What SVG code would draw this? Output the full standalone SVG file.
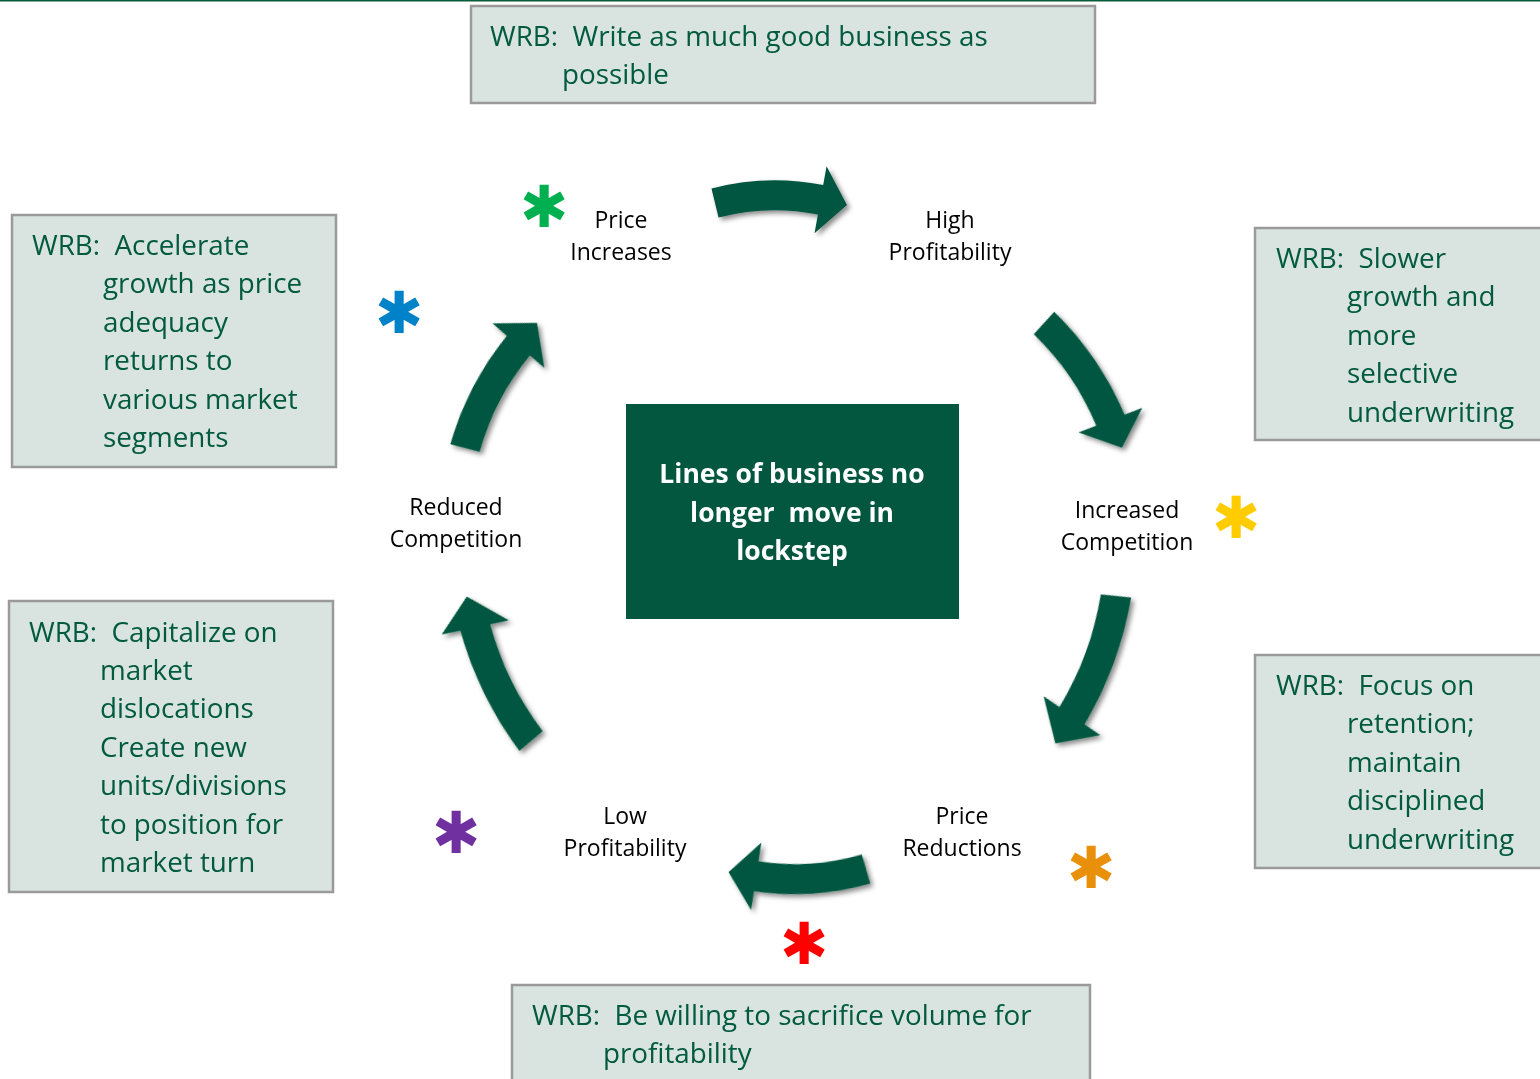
<svg xmlns="http://www.w3.org/2000/svg" width="1540" height="1079" viewBox="0 0 1540 1079">
  <style>
    .note { fill: #d9e3df; stroke: #9a9a9a; stroke-width: 2.5; }
    .note-text { font-family: "Open Sans", "Liberation Sans", sans-serif; font-size: 27.8px; fill: #005a3e; }
    .label { font-family: "Open Sans", "Liberation Sans", sans-serif; font-size: 23px; fill: #000; text-anchor: middle; }
    .core { fill: #04573f; }
    .core-text { font-family: "Open Sans", "Liberation Sans", sans-serif; font-size: 26.5px; font-weight: bold; fill: #fff; text-anchor: middle; }
    .star { font-family: "DejaVu Sans", sans-serif; font-size: 58px; font-weight: bold; text-anchor: middle; dominant-baseline: central; }
    .arrow { fill: #04573f; }
  </style>
  <defs>
    <filter id="soft-shadow" x="-30%" y="-30%" width="160%" height="160%">
      <feDropShadow dx="3" dy="3" stdDeviation="2.5" flood-color="#000" flood-opacity="0.45"/>
    </filter>
    <!-- curved block arrow: tail centre at origin, travelling along +x, bulging toward -y -->
    <path id="cycle-arrow" d="M -3.23,-14.65 A 270.1 270.1 0 0 1 113.23,-14.65 L 117.33,-33.21 L 137.34,6.04 L 102.67,33.2 L 106.77,14.64 A 240.1 240.1 0 0 0 3.23,14.64 Z"/>
  </defs>

  <rect width="1540" height="1079" fill="#fff"/>
  <line x1="0" y1="0.5" x2="1540" y2="0.5" stroke="#0a5a3c" stroke-width="2"/>

  <!-- connectors: the six arrows of the cycle -->
  <g id="connectors" class="arrow" filter="url(#soft-shadow)">
    <use href="#cycle-arrow" transform="translate(715,203) rotate(-1.75) scale(0.96,1)"/>
    <use href="#cycle-arrow" transform="translate(1044,323) rotate(55.65) scale(1.07,1)"/>
    <use href="#cycle-arrow" transform="translate(1116,596) rotate(110.2) scale(1.16,1)"/>
    <use href="#cycle-arrow" transform="translate(866,869) rotate(176.2)"/>
    <use href="#cycle-arrow" transform="translate(531,741) rotate(-116.15) scale(1.15,1)"/>
    <use href="#cycle-arrow" transform="translate(465,448) rotate(-62.46) scale(1.05,1)"/>
  </g>

  <!-- centre -->
  <g id="core">
    <rect class="core" x="626" y="404" width="333" height="215"/>
    <text class="core-text" xml:space="preserve"><tspan x="792" y="483">Lines of business no</tspan><tspan x="792" y="522">longer  move in</tspan><tspan x="792" y="560">lockstep</tspan></text>
  </g>

  <!-- cycle stages -->
  <g id="stage-price-increases">
    <text class="label"><tspan x="621" y="228">Price</tspan><tspan x="621" y="260">Increases</tspan></text>
    <text class="star" x="544" y="207" fill="#00b050">✱</text>
  </g>
  <g id="stage-high-profitability">
    <text class="label"><tspan x="950" y="228">High</tspan><tspan x="950" y="260">Profitability</tspan></text>
  </g>
  <g id="stage-increased-competition">
    <text class="label"><tspan x="1127" y="518">Increased</tspan><tspan x="1127" y="550">Competition</tspan></text>
    <text class="star" x="1236" y="518" fill="#ffcc00">✱</text>
  </g>
  <g id="stage-price-reductions">
    <text class="label"><tspan x="962" y="824">Price</tspan><tspan x="962" y="856">Reductions</tspan></text>
    <text class="star" x="1091" y="868" fill="#e8900a">✱</text>
  </g>
  <g id="stage-low-profitability">
    <text class="label"><tspan x="625" y="824">Low</tspan><tspan x="625" y="856">Profitability</tspan></text>
    <text class="star" x="804" y="944" fill="#ff0000">✱</text>
    <text class="star" x="456" y="833" fill="#7030a0">✱</text>
  </g>
  <g id="stage-reduced-competition">
    <text class="label"><tspan x="456" y="515">Reduced</tspan><tspan x="456" y="547">Competition</tspan></text>
    <text class="star" x="399" y="313" fill="#0082c8">✱</text>
  </g>

  <!-- strategy notes -->
  <g id="note-top">
    <rect class="note" x="471" y="6" width="624" height="97"/>
    <text class="note-text" xml:space="preserve"><tspan x="490" y="46">WRB:  Write as much good business as</tspan><tspan x="562" y="84">possible</tspan></text>
  </g>
  <g id="note-left-upper">
    <rect class="note" x="12" y="215" width="324" height="252"/>
    <text class="note-text" xml:space="preserve"><tspan x="32" y="255">WRB:  Accelerate</tspan><tspan x="103" y="293">growth as price</tspan><tspan x="103" y="332">adequacy</tspan><tspan x="103" y="370">returns to</tspan><tspan x="103" y="409">various market</tspan><tspan x="103" y="447">segments</tspan></text>
  </g>
  <g id="note-right-upper">
    <rect class="note" x="1255" y="228" width="300" height="212"/>
    <text class="note-text" xml:space="preserve"><tspan x="1276" y="268">WRB:  Slower</tspan><tspan x="1347" y="306">growth and</tspan><tspan x="1347" y="345">more</tspan><tspan x="1347" y="383">selective</tspan><tspan x="1347" y="422">underwriting</tspan></text>
  </g>
  <g id="note-left-lower">
    <rect class="note" x="9" y="601" width="324" height="291"/>
    <text class="note-text" xml:space="preserve"><tspan x="29" y="642">WRB:  Capitalize on</tspan><tspan x="100" y="680">market</tspan><tspan x="100" y="718">dislocations</tspan><tspan x="100" y="757">Create new</tspan><tspan x="100" y="795">units/divisions</tspan><tspan x="100" y="834">to position for</tspan><tspan x="100" y="872">market turn</tspan></text>
  </g>
  <g id="note-right-lower">
    <rect class="note" x="1255" y="655" width="300" height="213"/>
    <text class="note-text" xml:space="preserve"><tspan x="1276" y="695">WRB:  Focus on</tspan><tspan x="1347" y="733">retention;</tspan><tspan x="1347" y="772">maintain</tspan><tspan x="1347" y="810">disciplined</tspan><tspan x="1347" y="849">underwriting</tspan></text>
  </g>
  <g id="note-bottom">
    <rect class="note" x="512" y="985" width="578" height="110"/>
    <text class="note-text" xml:space="preserve"><tspan x="532" y="1025">WRB:  Be willing to sacrifice volume for</tspan><tspan x="603" y="1063">profitability</tspan></text>
  </g>
</svg>
